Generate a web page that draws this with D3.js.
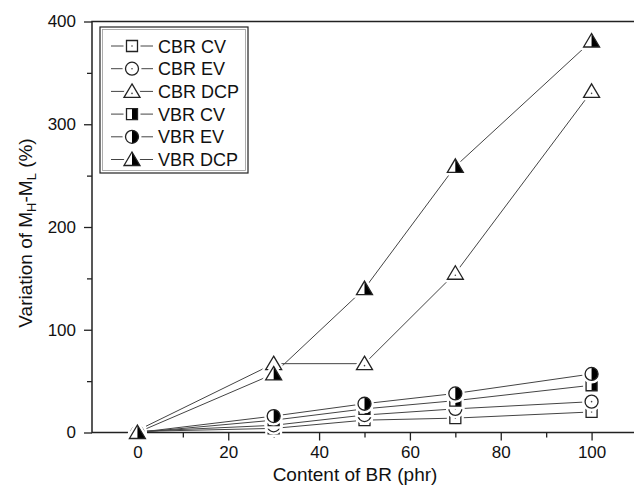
<!DOCTYPE html>
<html>
<head>
<meta charset="utf-8">
<script src="https://cdn.jsdelivr.net/npm/d3@7"></script>
<style>
  body { margin: 0; background: #fff; }
  text { font-family: Arial, "Liberation Sans", sans-serif; fill: #111; }
</style>
</head>
<body>
<div id="chart"></div>
<script>
// content of BR (phr)
const contents = [0, 30, 50, 70, 100];

// variation of MH-ML (%) per series
const cbrCV  = [1, 4, 12, 14, 20];
const cbrEV  = [1, 7, 17, 23, 30];
const cbrDCP = [2, 67, 67, 155, 332];
const vbrCV  = [0, 12, 23, 31, 46];
const vbrEV  = [0, 16, 28, 38, 57];
const vbrDCP = [0, 57, 140, 259, 381];

const seriesNames = ["CBR CV", "CBR EV", "CBR DCP", "VBR CV", "VBR EV", "VBR DCP"];
const xTicks = [0, 20, 40, 60, 80, 100];
const yTicks = [0, 100, 200, 300, 400];

const series = [
  {name: seriesNames[0], values: cbrCV,  shape: "square",   half: false},
  {name: seriesNames[1], values: cbrEV,  shape: "circle",   half: false},
  {name: seriesNames[2], values: cbrDCP, shape: "triangle", half: false},
  {name: seriesNames[3], values: vbrCV,  shape: "square",   half: true},
  {name: seriesNames[4], values: vbrEV,  shape: "circle",   half: true},
  {name: seriesNames[5], values: vbrDCP, shape: "triangle", half: true}
];

const W = 634, H = 485;

const svg = d3.select("#chart").append("svg")
  .attr("width", W).attr("height", H);

const x = d3.scaleLinear().domain([-10, 110]).range([92, 637]);
const y = d3.scaleLinear().domain([0, 400]).range([432.5, 21.5]);

const ink = "#222";

// frame
svg.append("rect")
  .attr("x", x(-10)).attr("y", y(400))
  .attr("width", x(110) - x(-10)).attr("height", y(0) - y(400))
  .attr("fill", "none").attr("stroke", ink).attr("stroke-width", 1.5);

// x axis
const xAxis = svg.append("g").attr("transform", `translate(0,${y(0)})`)
  .call(d3.axisBottom(x).tickValues(xTicks).tickSize(8).tickSizeOuter(0).tickPadding(5));
xAxis.select(".domain").remove();
xAxis.selectAll("line").attr("stroke", ink).attr("stroke-width", 1.3);
xAxis.selectAll("text").attr("font-size", 17).attr("fill", "#111");

svg.append("g").attr("transform", `translate(0,${y(0)})`)
  .call(d3.axisBottom(x).tickValues([10, 30, 50, 70, 90]).tickSize(5).tickFormat(""))
  .call(g => g.select(".domain").remove())
  .selectAll("line").attr("stroke", ink).attr("stroke-width", 1.3);

// y axis
const yAxis = svg.append("g").attr("transform", `translate(${x(-10)},0)`)
  .call(d3.axisLeft(y).tickValues(yTicks).tickSize(8).tickSizeOuter(0).tickPadding(8));
yAxis.select(".domain").remove();
yAxis.selectAll("line").attr("stroke", ink).attr("stroke-width", 1.3);
yAxis.selectAll("text").attr("font-size", 17).attr("fill", "#111");

svg.append("g").attr("transform", `translate(${x(-10)},0)`)
  .call(d3.axisLeft(y).tickValues([50, 150, 250, 350]).tickSize(5).tickFormat(""))
  .call(g => g.select(".domain").remove())
  .selectAll("line").attr("stroke", ink).attr("stroke-width", 1.3);

// axis titles
svg.append("text")
  .attr("x", 355).attr("y", 481)
  .attr("text-anchor", "middle").attr("font-size", 19)
  .text("Content of BR (phr)");

const yt = svg.append("text")
  .attr("transform", "translate(32,233) rotate(-90)")
  .attr("text-anchor", "middle").attr("font-size", 19);
yt.append("tspan").text("Variation of M");
yt.append("tspan").attr("font-size", 13).attr("dy", 4).text("H");
yt.append("tspan").attr("dy", -4).text("-M");
yt.append("tspan").attr("font-size", 13).attr("dy", 4).text("L");
yt.append("tspan").attr("dy", -4).text(" (%)");

// marker drawing
function shapePath(shape) {
  if (shape === "square") return "M-5.5,-5.5H5.5V5.5H-5.5Z";
  if (shape === "circle") return "M-6.5,0A6.5,6.5 0 1,1 6.5,0A6.5,6.5 0 1,1 -6.5,0Z";
  return "M0,-7.5L8,6L-8,6Z";
}
function halfPath(shape) {
  if (shape === "square") return "M0,-5.5H5.5V5.5H0Z";
  if (shape === "circle") return "M0,-6.5A6.5,6.5 0 0,1 0,6.5Z";
  return "M0,-7.5L8,6L0,6Z";
}
function drawMarker(g, s) {
  g.append("path").attr("d", shapePath(s.shape))
    .attr("fill", "#fff").attr("stroke", "#fff").attr("stroke-width", 6);
  g.append("path").attr("d", shapePath(s.shape)).attr("fill", "#fff");
  if (s.half) {
    g.append("path").attr("d", halfPath(s.shape)).attr("fill", "#000");
  } else {
    g.append("circle").attr("cx", 0).attr("cy", s.shape === "triangle" ? 2 : 0)
      .attr("r", 0.8).attr("fill", "#444");
  }
  g.append("path").attr("d", shapePath(s.shape))
    .attr("fill", "none").attr("stroke", ink).attr("stroke-width", 1.3);
}

// lines
const line = d3.line().x((d, i) => x(contents[i])).y(d => y(d));
series.forEach(s => {
  svg.append("path").datum(s.values)
    .attr("fill", "none").attr("stroke", "#444").attr("stroke-width", 1)
    .attr("d", line);
});

// markers
series.forEach(s => {
  s.values.forEach((v, i) => {
    const g = svg.append("g").attr("transform", `translate(${x(contents[i])},${y(v)})`);
    drawMarker(g, s);
  });
});

// legend
const lg = svg.append("g");
lg.append("rect").attr("x", 100).attr("y", 27).attr("width", 148).attr("height", 146)
  .attr("fill", "#fff").attr("stroke", ink).attr("stroke-width", 1.2);
lg.append("rect").attr("x", 102.5).attr("y", 29.5).attr("width", 143).attr("height", 141)
  .attr("fill", "none").attr("stroke", "#999").attr("stroke-width", 0.8);

series.forEach((s, i) => {
  const cy = 46 + i * 22.7;
  lg.append("line").attr("x1", 111).attr("x2", 153).attr("y1", cy).attr("y2", cy)
    .attr("stroke", "#444").attr("stroke-width", 1);
  const g = lg.append("g").attr("transform", `translate(132,${cy})`);
  drawMarker(g, s);
  lg.append("text").attr("x", 158).attr("y", cy + 6.5)
    .attr("font-size", 18).text(s.name);
});
</script>
</body>
</html>
